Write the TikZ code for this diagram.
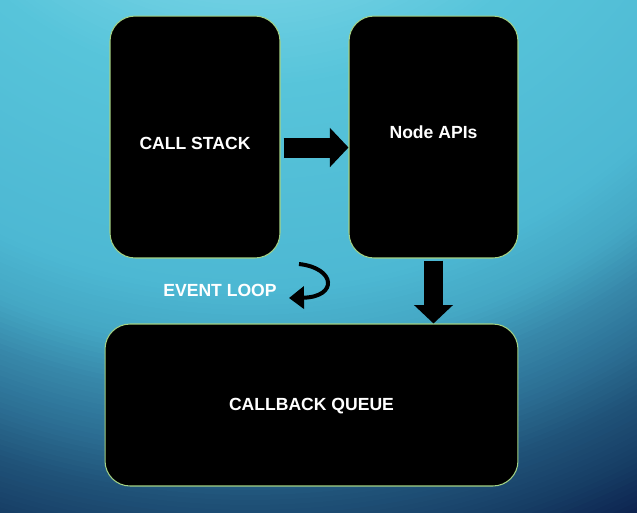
\documentclass[tikz,border=0pt]{standalone}
\usepackage{fontspec}
\setmainfont{Liberation Sans}
\usetikzlibrary{arrows.meta,positioning,calc}
\definecolor{bga}{HTML}{0A2049}
\definecolor{bgb}{HTML}{0D2450}
\definecolor{bgc}{HTML}{173F66}
\definecolor{bgd}{HTML}{205379}
\definecolor{bge}{HTML}{2C6F94}
\definecolor{bgf}{HTML}{3787A9}
\definecolor{bgg}{HTML}{44A7C4}
\definecolor{bgh}{HTML}{4DB8D3}
\definecolor{bgi}{HTML}{57C4DA}
\definecolor{bgj}{HTML}{70D0E3}
\definecolor{panelline}{HTML}{A3D184}
\tikzset{
  panel/.style={draw=panelline, fill=black, rounded corners=0.5cm, line width=0.6pt, inner sep=0pt},
  paneltext/.style={text=white, font=\bfseries\fontsize{10}{12}\selectfont},
  blockarrow/.style={line width=0.4cm, -{Triangle[length=0.37cm, width=0.76cm]}},
  looparrow/.style={line width=0.08cm, -{Triangle[length=0.3cm, width=0.44cm]}}
}
\begin{document}
\begin{tikzpicture}[x=0.02cm,y=-0.02cm]
  \useasboundingbox (0,0) rectangle (637,512);
  % background glow, rings from outside in
  \begin{scope}
    \clip (0,0) rectangle (637,512);
    \fill[bga] (0,0) rectangle (637,512);
    \foreach \ra/\rb/\ca/\cb in {920/900/bga/bgb, 900/850/bgb/bgc, 850/800/bgc/bgd,
        800/750/bgd/bge, 750/700/bge/bgf, 700/650/bgf/bgg, 650/590/bgg/bgh,
        590/390/bgh/bgi, 390/290/bgi/bgj}{
      \pgfmathtruncatemacro\rc{\ra-5}
      \foreach \r in {\ra,\rc,...,\rb}{
        \pgfmathtruncatemacro\p{(\r-\rb)/(\ra-\rb)*100}
        \fill[\ca!\p!\cb] (250,-300) circle[radius=\r];
      }
    }
  \end{scope}
  % panels
  \node[panel, minimum width=3.4cm, minimum height=4.84cm,
    label={[paneltext, yshift=-0.12cm]center:CALL STACK}] (stack) at (195,137) {};
  \node[panel, minimum width=3.38cm, minimum height=4.84cm,
    label={[paneltext, yshift=0.1cm]center:Node APIs}] (apis) at (433.5,137) {};
  \node[panel, minimum width=8.26cm, minimum height=3.24cm,
    label={[paneltext, yshift=-0.03cm]center:CALLBACK QUEUE}] (queue) at (311.5,405) {};
  \node[paneltext] (loop) at (220,290) {EVENT LOOP};
  \coordinate (loopstart) at (299,264);
  \coordinate (loopend) at (289,298);
  % arrows
  \draw[blockarrow] (stack.east |- 0,147.5) ++(3,0) -- (apis.west |- 0,147.5);
  \draw[blockarrow] (apis.south) ++(0,2) -- (queue.north -| apis.south);
  \draw[looparrow] (loopstart) .. controls (336,268) and (338,297) .. (loopend);
\end{tikzpicture}
\end{document}
